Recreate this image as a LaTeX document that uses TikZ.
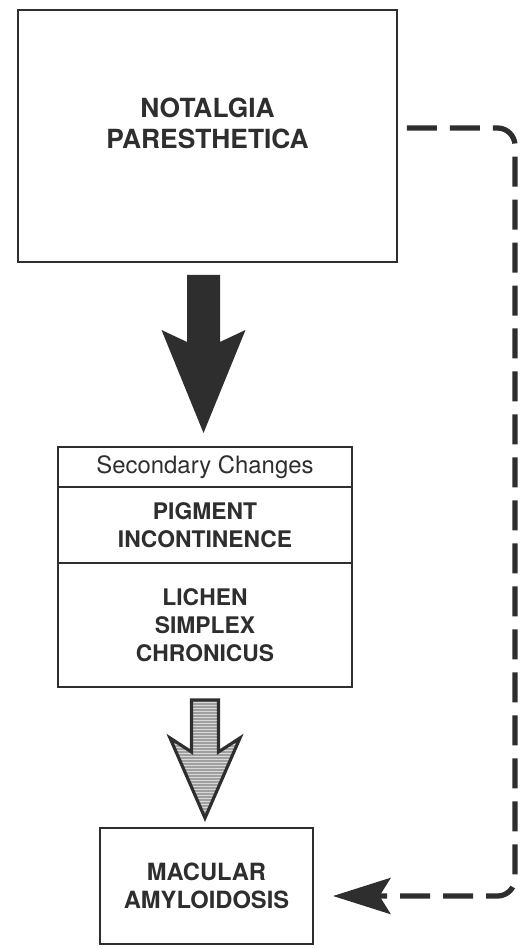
\documentclass[tikz,border=0pt]{standalone}
\usepackage{fontspec}
\setmainfont{TeX Gyre Heros}
\usetikzlibrary{positioning,arrows.meta}
\definecolor{ink}{gray}{0.18}
\tikzset{
  box/.style={draw=ink, line width=1.3pt, inner sep=0pt, outer sep=0pt, text=ink, align=center},
  bigtxt/.style={font=\bfseries\fontsize{15}{17.6}\selectfont},
  midtxt/.style={font=\bfseries\fontsize{13}{16}\selectfont},
  endtxt/.style={font=\bfseries\fontsize{13.5}{16}\selectfont},
  plaintxt/.style={font=\fontsize{13.6}{15}\selectfont},
}
\begin{document}
\begin{tikzpicture}[x=0.02cm, y=-0.02cm]
  \useasboundingbox (0,0) rectangle (521,948);

  % primary condition
  \node (notalgia) [box, minimum width=7.58cm, minimum height=5.04cm] at (207.5,136) {};
  \node (notalgiatxt) [text=ink, bigtxt, align=center] at (207.5,123) {NOTALGIA\\PARESTHETICA};

  % secondary changes
  \node (sec) [box, plaintxt, minimum width=5.88cm, minimum height=0.8cm] at (205,467) {Secondary Changes};
  \node (pigment) [box, midtxt, minimum width=5.88cm, minimum height=1.52cm, below=0pt of sec] {PIGMENT\\INCONTINENCE};
  \node (lichen) [box, midtxt, minimum width=5.88cm, minimum height=2.48cm, below=0pt of pigment] {LICHEN\\SIMPLEX\\CHRONICUS};

  % result
  \node (macular) [box, endtxt, minimum width=4.26cm, minimum height=2.32cm] at (206.5,886) {MACULAR\\AMYLOIDOSIS};

  % solid arrow
  \path (notalgia.south) ++(-4,13) coordinate (down1);
  \begin{scope}[shift={(down1)}]
    \fill [ink] (-16.5,0) -- (16.5,0) -- (16.5,67) -- (42,55) -- (0,158) -- (-42,55) -- (-16.5,67) -- cycle;
  \end{scope}

  % striped arrow
  \path (lichen.south) ++(0,13) coordinate (down2);
  \begin{scope}[shift={(down2)}]
    \begin{scope}
      \clip (-13.5,0) -- (13.5,0) -- (13.5,52) -- (35,38) -- (0,118) -- (-35,38) -- (-13.5,52) -- cycle;
      \fill [gray!30] (-40,0) rectangle (40,120);
      \foreach \y in {1,4,...,120}
        \draw [gray!75, line width=0.8pt] (-40,\y) -- (40,\y);
    \end{scope}
    \draw [ink, line width=1.8pt, line join=miter] (-13.5,0) -- (13.5,0) -- (13.5,52) -- (35,38) -- (0,118) -- (-35,38) -- (-13.5,52) -- cycle;
  \end{scope}

  % dashed direct route
  \coordinate (macin) at ([shift={(20,10)}]macular.east);
  \draw [ink, line width=3pt, dash pattern=on 0.6cm off 0.26cm, rounded corners=0.35cm,
    -{Stealth[length=1.15cm, width=0.72cm, inset=0.22cm]}]
    ([shift={(10,-8)}]notalgia.east) -- ++(108,0) |- (macin);
\end{tikzpicture}
\end{document}
